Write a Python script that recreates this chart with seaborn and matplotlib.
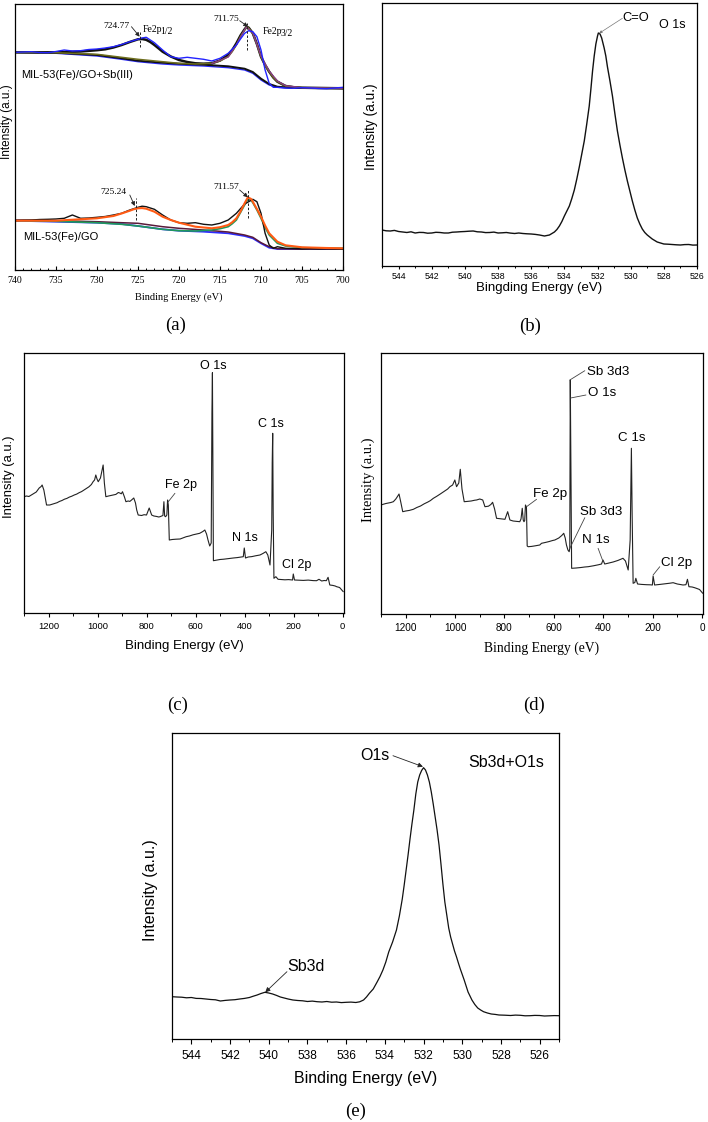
import matplotlib
matplotlib.use("Agg")
import matplotlib.pyplot as plt
import seaborn as sns
from matplotlib.ticker import MultipleLocator

sns.set_theme(style="ticks")
SANS = ['Liberation Sans', 'DejaVu Sans']
SERIF = ['Liberation Serif', 'DejaVu Serif']
plt.rcParams['font.family'] = SANS

# ---------------- panel (a): Fe 2p ----------------
a_up_data_x = [740, 739, 738, 737, 736, 735, 734, 733, 732, 731, 730, 729, 728, 727, 726, 725, 724.5, 724, 723.5, 723,
               722, 721, 720, 719, 718, 717, 716, 715, 714, 713, 712.5, 712, 711.5, 711, 710.5, 710, 709.5, 709, 708.5,
               708, 707, 706, 705, 704, 703, 702, 701, 700]
a_up_data_y = [217.7, 218.0, 218.3, 217.5, 217.3, 218.5, 220.0, 219.0, 219.3, 220.5, 221.0, 222.0, 223.3, 225.5, 228.3,
               230.7, 232.0, 232.7, 230.0, 227.3, 220.0, 213.3, 211.7, 212.7, 211.7, 210.7, 209.0, 211.7, 216.7, 225.0,
               231.0, 236.7, 239.3, 238.3, 233.3, 220.0, 200.0, 186.7, 182.7, 182.7, 182.0, 181.7, 182.3, 182.0, 181.5,
               181.3, 182.0, 182.7]
a_up_env_x = [740, 735, 732, 730, 729, 728, 727, 726, 725, 724.5, 724, 723.5, 723, 722.5, 722, 721, 720, 719, 718, 717,
              716, 715, 714, 713.5, 713, 712.5, 712, 711.75, 711.5, 711, 710.5, 710, 709.5, 709, 708.5, 708, 707, 706,
              705, 700]
a_up_env_y = [217.7, 217.7, 218.5, 219.8, 220.7, 222.5, 225.0, 228.0, 230.7, 231.0, 230.2, 228.0, 225.0, 221.7, 218.3,
              213.5, 210.0, 208.0, 206.7, 206.3, 206.7, 209.5, 215.0, 220.0, 226.7, 234.5, 240.7, 243.3, 242.3, 236.7,
              226.0, 213.3, 205.0, 198.3, 192.5, 188.3, 184.0, 182.8, 182.3, 181.7]
a_up_c1_x = [740, 735, 730, 727, 725, 722, 720, 718, 716, 715, 714, 713.5, 713, 712.5, 712, 711.75, 711.5, 711, 710.5,
             710, 709.5, 709, 708.5, 708, 707, 705, 700]
a_up_c1_y = [217.7, 217.3, 215.7, 212.7, 210.7, 208.3, 206.7, 206.0, 206.7, 209.0, 213.3, 218.5, 225.0, 233.5, 240.0,
             243.3, 242.0, 236.7, 225.5, 213.3, 204.5, 198.3, 192.5, 188.3, 184.0, 182.3, 181.7]
a_up_c2_x = [716, 714, 713, 712, 711.75, 711, 710, 709, 708, 707, 705, 700]
a_up_c2_y = [206.5, 213.0, 225.3, 240.3, 243.0, 237.0, 214.0, 199.0, 189.0, 184.3, 182.3, 181.7]
a_up_bg_x = [740, 735, 730, 727, 725, 722, 720, 717, 714, 712, 711, 710, 709, 708, 706, 700]
a_up_bg1_y = [217.7, 216.7, 214.0, 210.7, 208.3, 206.0, 205.0, 204.0, 202.3, 200.0, 196.7, 190.0, 185.0, 182.7, 181.7, 181.7]
a_up_bg2_y = [217.7, 217.3, 215.0, 211.7, 209.3, 207.3, 206.3, 205.3, 203.7, 201.3, 198.0, 191.3, 186.0, 183.3, 182.0, 181.7]

a_lo_data_x = [740, 739, 738, 737, 736, 735, 734, 733, 732, 731, 730, 729, 728, 727, 726, 725, 724.5, 724, 723, 722,
               721, 720, 719, 718, 717, 716, 715, 714, 713, 712, 711.5, 711, 710.5, 710, 709.5, 709, 708.5, 708, 707,
               706, 705, 704, 703, 702, 701, 700]
a_lo_data_y = [49.3, 49.8, 50.0, 50.5, 50.7, 51.0, 51.7, 55.0, 51.7, 52.0, 52.7, 53.5, 55.0, 56.7, 60.0, 62.7, 63.8,
               63.3, 60.7, 55.0, 50.0, 47.3, 46.7, 47.3, 45.7, 45.0, 46.7, 50.0, 56.7, 66.0, 68.3, 70.7, 68.3, 56.7,
               36.7, 25.0, 21.7, 23.3, 21.7, 21.5, 21.0, 21.3, 21.0, 21.2, 21.0, 21.0]
a_lo_env_x = [740, 735, 730, 728, 727, 726, 725.5, 725, 724.5, 724, 723, 722, 721, 720, 718, 716, 715, 714, 713.5, 713,
              712.5, 712, 711.6, 711.2, 711, 710.5, 710, 709.5, 709, 708, 707, 705, 702, 700]
a_lo_env_y = [49.3, 49.3, 51.7, 54.0, 56.5, 59.3, 60.8, 61.7, 61.9, 61.3, 58.3, 53.3, 50.0, 47.3, 43.3, 41.7, 42.8,
              45.0, 47.8, 51.7, 58.5, 66.7, 72.7, 71.0, 68.3, 61.0, 53.3, 44.5, 36.7, 28.3, 24.7, 22.7, 22.0, 21.7]
a_lo_c1_x = [740, 735, 730, 727, 725, 722, 720, 718, 716, 715, 714, 713.5, 713, 712.5, 712, 711.6, 711.2, 711, 710.5,
             710, 709.5, 709, 708, 707, 705, 700]
a_lo_c1_y = [49.3, 48.7, 47.3, 45.7, 44.0, 40.7, 39.3, 39.0, 40.0, 41.3, 43.3, 46.3, 50.0, 57.5, 65.0, 71.0, 69.5,
             67.3, 60.0, 51.7, 42.5, 35.0, 26.7, 24.0, 22.3, 21.7]
a_lo_bg_x = [740, 735, 730, 727, 725, 722, 720, 717, 714, 712, 711, 710, 709, 708, 706, 700]
a_lo_bg1_y = [49.3, 48.3, 47.3, 46.0, 44.0, 40.7, 39.3, 38.3, 36.7, 34.0, 31.7, 26.7, 22.3, 21.0, 21.0, 21.0]
a_lo_bg2_y = [50.0, 49.3, 48.3, 47.3, 46.7, 43.3, 41.7, 40.0, 38.0, 35.0, 32.7, 27.3, 23.3, 21.3, 21.0, 21.0]

a_peaks = [724.77, 711.75, 725.24, 711.57]
a_peak_labels = ["724.77", "711.75", "725.24", "711.57"]
a_dash_lo = [223.3, 220.0, 50.0, 51.7]
a_dash_hi = [238.3, 246.7, 71.7, 80.0]

# ---------------- panel (b): O 1s ----------------
b_x = [545, 544.75, 544.5, 544.25, 544, 543.75, 543.5, 543.25, 543, 542.75, 542.5, 542.25, 542, 541.75, 541.5, 541.25,
       541, 540.75, 540.5, 540.25, 540, 539.75, 539.5, 539.25, 539, 538.75, 538.5, 538.25, 538, 537.75, 537.5, 537.25,
       537, 536.75, 536.5, 536.25, 536, 535.75, 535.5, 535.2, 534.9, 534.6, 534.45, 534.3, 534.15, 534.0, 533.85,
       533.7, 533.55, 533.4, 533.25, 533.1, 532.95, 532.8, 532.65, 532.5, 532.4, 532.3, 532.2, 532.1, 532.0, 531.95,
       531.85, 531.75, 531.6, 531.5, 531.4, 531.25, 531.1, 530.95, 530.8, 530.65, 530.5, 530.35, 530.2, 530.05, 529.9,
       529.75, 529.6, 529.45, 529.3, 529.15, 529.0, 528.85, 528.7, 528.55, 528.4, 528.2, 528.0, 527.75, 527.5, 527.25,
       527.0, 526.75, 526.5, 526.25, 526.0]
b_y = [36.0, 35.2, 35.0, 35.6, 34.5, 34.0, 33.5, 34.2, 33.0, 33.6, 33.5, 32.8, 33.0, 33.7, 33.5, 33.0, 33.0, 33.8, 34.0,
       34.3, 34.5, 34.8, 35.0, 34.2, 34.0, 33.4, 33.5, 33.9, 33.0, 33.2, 33.5, 32.9, 32.5, 33.0, 32.5, 32.2, 32.0, 31.6,
       31.0, 30.0, 31.0, 34.0, 36.5, 40.0, 44.5, 50.0, 55.0, 60.0, 67.5, 76.0, 87.0, 99.0, 112.0, 125.0, 142.0, 160.0,
       177.0, 195.0, 210.0, 222.0, 230.0, 233.0, 232.0, 228.0, 218.0, 210.0, 199.0, 185.0, 170.0, 152.0, 135.0, 121.0,
       108.0, 96.0, 85.0, 75.0, 65.0, 56.0, 48.0, 42.0, 37.0, 33.5, 31.0, 29.0, 27.0, 25.5, 24.0, 23.0, 22.0, 21.8,
       21.5, 21.2, 21.0, 21.4, 21.5, 20.9, 21.0]

# ---------------- panel (c): survey MIL-53(Fe)/GO ----------------
c_x = [1300, 1290, 1280, 1270, 1263, 1250, 1238, 1230, 1226, 1219, 1208, 1195, 1185, 1175, 1165, 1155, 1145, 1135,
       1125, 1115, 1105, 1095, 1085, 1075, 1065, 1055, 1045, 1035, 1025, 1018, 1012, 1007, 1002, 997, 988, 977, 972,
       966, 955, 945, 936, 925, 915, 909, 903, 898, 890, 884, 875, 868, 861, 852, 845, 840, 834, 820, 810, 800, 789,
       779, 770, 760, 750, 745, 733, 729, 726, 722, 717, 714, 711, 707, 695, 680, 663, 650, 638, 625, 610, 595, 583,
       570, 562, 555, 549, 542, 536, 533, 531, 529, 527, 515, 500, 485, 470, 458, 446, 430, 415, 405, 401, 396, 385,
       370, 355, 337, 325, 313, 305, 296, 289, 287, 285, 283, 280, 272, 263, 250, 235, 220, 204, 201, 196, 180, 160,
       140, 120, 106, 96, 85, 75, 66, 59, 52, 40, 30, 24, 12, -3]
c_y = [116.3, 117.0, 116.5, 118.0, 119.0, 121.0, 125.0, 126.5, 128.0, 123.0, 108.0, 108.0, 108.8, 109.5, 110.3, 111.6,
       112.5, 113.8, 114.6, 115.9, 116.8, 118.0, 118.9, 120.3, 121.4, 123.0, 124.6, 126.2, 128.5, 131.3, 133.0, 138.0,
       134.0, 131.3, 135.0, 148.0, 130.0, 116.3, 117.0, 117.5, 118.0, 118.6, 120.5, 120.0, 119.2, 121.3, 116.0, 111.3,
       112.0, 111.6, 113.0, 115.0, 110.0, 103.0, 98.0, 97.5, 98.3, 98.0, 105.0, 98.0, 97.0, 96.6, 96.0, 96.3, 97.5,
       111.3, 97.0, 96.3, 98.0, 113.0, 108.0, 73.0, 73.5, 73.8, 74.0, 75.2, 76.3, 77.0, 78.2, 79.0, 79.7, 81.5, 83.0,
       79.0, 73.0, 67.0, 70.0, 200.0, 240.3, 150.0, 52.3, 52.8, 53.5, 53.8, 54.3, 54.6, 55.0, 55.4, 56.0, 56.3, 65.0,
       55.0, 56.0, 56.4, 57.2, 58.0, 59.5, 61.3, 58.0, 48.0, 83.0, 150.0, 179.7, 100.0, 34.7, 36.3, 33.7, 33.5, 33.2,
       33.4, 33.0, 39.0, 33.0, 32.8, 32.6, 32.9, 32.4, 32.3, 33.7, 32.0, 32.5, 32.3, 35.7, 28.0, 27.6, 27.0, 26.3, 25.5,
       21.3]

# ---------------- panel (d): survey MIL-53(Fe)/GO + Sb(III) ----------------
d_x = [1300, 1290, 1280, 1270, 1260, 1250, 1240, 1232, 1227, 1220, 1212, 1200, 1185, 1169, 1155, 1140, 1125, 1110,
       1100, 1088, 1075, 1060, 1045, 1030, 1021, 1010, 1001, 994, 985, 979, 972, 963, 950, 935, 920, 913, 900, 888,
       879, 865, 855, 848, 840, 832, 815, 798, 787, 778, 765, 750, 738, 733, 728, 724, 721, 718, 715, 711, 708, 704,
       690, 675, 657, 650, 635, 620, 605, 596, 580, 568, 560, 554, 549, 543, 538, 535.5, 533.5, 531, 528, 510, 490,
       475, 461, 440, 420, 407, 401, 394, 380, 360, 340, 320, 310, 299, 291, 286, 283, 279, 272, 268, 261, 245, 225,
       210, 201, 198, 192, 170, 150, 130, 117, 100, 88, 77, 65, 59, 53, 40, 30, 23, 10, -3]
d_y = [109.0, 109.8, 110.5, 111.0, 111.5, 112.3, 115.0, 118.0, 120.0, 112.0, 102.3, 103.0, 103.6, 104.7, 106.5, 108.0,
       110.2, 112.0, 113.4, 115.7, 117.6, 120.0, 122.5, 125.0, 127.3, 129.0, 134.0, 127.3, 131.0, 144.7, 125.0, 112.3,
       112.6, 113.0, 113.8, 114.0, 115.0, 114.0, 107.3, 107.8, 109.5, 111.7, 105.0, 95.7, 95.2, 94.7, 102.3, 94.0,
       93.0, 92.6, 92.3, 95.0, 105.7, 94.0, 92.3, 93.5, 109.0, 107.0, 68.0, 67.3, 67.6, 68.2, 69.0, 70.7, 71.5, 72.4,
       73.5, 74.0, 76.0, 78.5, 80.7, 76.0, 69.0, 64.0, 62.3, 65.7, 234.0, 150.0, 45.7, 46.0, 46.5, 47.0, 47.3, 48.2,
       49.2, 50.0, 54.0, 50.0, 50.8, 52.0, 53.6, 55.7, 53.0, 44.0, 74.0, 165.7, 100.0, 30.7, 31.5, 35.7, 30.0, 29.6,
       29.3, 29.2, 29.0, 38.0, 29.0, 29.6, 30.2, 30.8, 31.3, 30.0, 29.5, 29.0, 29.3, 34.7, 27.3, 27.0, 26.3, 25.7, 24.5,
       20.7]

# ---------------- panel (e): Sb3d + O1s ----------------
e_x = [545, 544.75, 544.5, 544.25, 544, 543.75, 543.5, 543.25, 543, 542.75, 542.5, 542.25, 542, 541.75, 541.5, 541.25,
       541, 540.8, 540.6, 540.4, 540.2, 540.0, 539.8, 539.6, 539.4, 539.2, 539, 538.75, 538.5, 538.25, 538, 537.75,
       537.5, 537.25, 537, 536.75, 536.5, 536.25, 536, 535.75, 535.5, 535.3, 535.1, 534.95, 534.8, 534.6, 534.4,
       534.25, 534.1, 533.95, 533.8, 533.6, 533.4, 533.25, 533.1, 533.0, 532.9, 532.8, 532.7, 532.6, 532.5, 532.4,
       532.3, 532.2, 532.1, 532.0, 531.9, 531.8, 531.7, 531.6, 531.5, 531.4, 531.3, 531.2, 531.1, 531.0, 530.9, 530.8,
       530.7, 530.6, 530.5, 530.4, 530.3, 530.2, 530.1, 530.0, 529.9, 529.8, 529.7, 529.6, 529.5, 529.35, 529.2,
       529.05, 528.9, 528.7, 528.5, 528.3, 528.1, 527.8, 527.5, 527.25, 527, 526.75, 526.5, 526.25, 526, 525.75, 525.5,
       525.25, 525]
e_y = [42.3, 42.0, 41.8, 41.2, 41.5, 40.6, 40.5, 40.0, 39.5, 39.2, 38.0, 38.6, 39.0, 39.3, 40.0, 40.6, 41.5, 42.8,
       44.0, 45.5, 46.7, 46.0, 45.0, 43.6, 42.0, 41.0, 40.0, 39.0, 38.5, 38.2, 37.5, 37.9, 37.3, 37.0, 37.5, 36.8, 37.0,
       36.4, 36.7, 36.9, 36.5, 37.2, 39.0, 42.0, 45.7, 50.0, 57.0, 62.5, 69.0, 77.0, 87.0, 97.0, 109.0, 123.0, 140.0,
       154.0, 169.0, 184.0, 200.0, 215.0, 229.0, 245.0, 257.0, 264.0, 268.5, 271.3, 269.0, 264.0, 257.0, 247.0, 235.0,
       222.0, 209.0, 194.0, 175.0, 155.0, 137.0, 124.0, 111.0, 102.0, 95.0, 88.0, 82.3, 76.0, 70.0, 64.5, 59.0, 53.0,
       47.0, 43.0, 39.0, 34.5, 31.0, 29.0, 27.3, 26.0, 25.0, 24.6, 24.0, 23.8, 23.5, 23.9, 23.7, 23.2, 23.3, 23.6,
       23.5, 23.0, 23.2, 23.4, 23.3]

# ---------------- figure ----------------
W, H = 708, 1122
fig = plt.figure(figsize=(W / 100, H / 100), dpi=100)


def add_axes(l, t, r, b):
    return fig.add_axes([l / W, 1 - b / H, (r - l) / W, (b - t) / H])


def line(ax, x, y, color, lw=0.9, ls='-'):
    sns.lineplot(x=x, y=y, ax=ax, color=color, linewidth=lw, linestyle=ls, sort=False, estimator=None, legend=False)


def style(ax, xlim, ylim, major, minor, direction, tickfam, ticksize, pad, majlen=3.0, minlen=1.8):
    ax.set_xlim(*xlim)
    ax.set_ylim(*ylim)
    ax.xaxis.set_major_locator(MultipleLocator(major))
    ax.xaxis.set_minor_locator(MultipleLocator(minor))
    ax.tick_params(axis='x', which='major', direction=direction, length=majlen, width=0.8, color='black',
                   labelsize=ticksize, pad=pad, labelfontfamily=tickfam, labelcolor='black', bottom=True, top=False)
    ax.tick_params(axis='x', which='minor', direction=direction, length=minlen, width=0.7, color='black',
                   bottom=True, top=False)
    ax.set_yticks([])
    ax.set_facecolor('white')
    for s in ax.spines.values():
        s.set_visible(True)
        s.set_linewidth(0.9)
        s.set_color('black')


def labels(ax, xlabel, xfam, xsize, xy, ylabel, yfam, ysize, yx, yy):
    ax.set_xlabel(xlabel, fontsize=xsize, family=xfam, color='black')
    ax.xaxis.set_label_coords(0.5, xy)
    ax.set_ylabel(ylabel, fontsize=ysize, family=yfam, color='black')
    ax.yaxis.set_label_coords(yx, yy)


# ---- (a)
axa = add_axes(15, 4, 343, 270)
line(axa, a_up_bg_x, a_up_bg1_y, '#2b2bff', 1.0)
line(axa, a_up_bg_x, a_up_bg2_y, '#111111', 1.4)
line(axa, a_up_env_x, a_up_env_y, '#111111', 1.8)
line(axa, a_up_c1_x, a_up_c1_y, '#6e6e1e', 1.1)
line(axa, a_up_c2_x, a_up_c2_y, '#8a3a8a', 0.9)
line(axa, a_up_data_x, a_up_data_y, '#2323ff', 1.0)
line(axa, a_lo_bg_x, a_lo_bg1_y, '#2b2bff', 1.3)
line(axa, a_lo_bg_x, a_lo_bg2_y, '#5a1a3a', 1.1)
line(axa, a_lo_c1_x, a_lo_c1_y, '#1f9a5a', 1.2)
line(axa, a_lo_data_x, a_lo_data_y, '#111111', 1.0)
line(axa, a_lo_env_x, a_lo_env_y, '#ff5a14', 1.5)
style(axa, (740, 700), (0, 266), 5, 1, 'in', SERIF, 7, 4.5, 3.0, 1.8)
labels(axa, 'Binding Energy (eV)', SERIF, 7.5, -22 / 266, 'Intensity (a.u.)', SANS, 8.5, -0.006, 0.557)
axa.vlines(a_peaks, a_dash_lo, a_dash_hi, colors='#222222', linestyles=(0, (2.5, 1.8)), linewidth=0.7)
arrow = dict(arrowstyle='-|>', color='#222222', lw=0.6, mutation_scale=6, shrinkA=0, shrinkB=0)
a_text_x = [727.6, 714.2, 728.0, 714.2]
a_text_y = [244.0, 250.7, 78.3, 82.7]
a_arrow_from = [(725.8, 243.3), (712.6, 249.3), (726.0, 75.0), (712.6, 80.0)]
a_arrow_to = [(724.8, 233.3), (711.6, 243.3), (725.4, 64.0), (711.6, 72.7)]
for lab, tx, ty, af, at in zip(a_peak_labels, a_text_x, a_text_y, a_arrow_from, a_arrow_to):
    axa.text(tx, ty, lab, fontsize=6.8, family=SERIF, ha='center', va='center', color='black')
    axa.annotate('', xy=at, xytext=af, arrowprops=arrow)
# orbital labels: "Fe2p" followed directly by a slightly lowered "1/2" / "3/2"
for x0, y0, sub in [(724.4, 240.5, '1/2'), (709.75, 238.8, '3/2')]:
    base = axa.text(x0, y0, 'Fe2p', fontsize=7, family=SERIF, ha='left', va='center', color='black')
    axa.annotate(sub, xy=(1.0, 0.5), xycoords=base, xytext=(-1.6, -1.3), textcoords='offset points',
                 fontsize=7, family=SERIF, ha='left', va='center', color='black')
axa.text(739.2, 195.0, 'MIL-53(Fe)/GO+Sb(III)', fontsize=8, family=SANS, ha='left', va='center', color='black')
axa.text(739.0, 33.3, 'MIL-53(Fe)/GO', fontsize=8, family=SANS, ha='left', va='center', color='black')

# ---- (b)
axb = add_axes(382, 3, 697, 266)
line(axb, b_x, b_y, '#111111', 1.0)
style(axb, (545, 526), (0, 263), 2, 1, 'out', SANS, 6.3, 1.5, 2.5, 1.5)
labels(axb, 'Bingding Energy (eV)', SANS, 9.5, -16 / 263, 'Intensity (a.u.)', SANS, 9.8, -0.013, 0.53)
axb.annotate('', xy=(531.9, 232.7), xytext=(530.5, 247.7),
             arrowprops=dict(arrowstyle='-|>', color='#777777', lw=0.5, mutation_scale=4, shrinkA=0, shrinkB=0))
axb.text(529.7, 247.7, 'C=O', fontsize=9.3, ha='center', va='center', color='black')
axb.text(527.5, 241.0, 'O 1s', fontsize=9, ha='center', va='center', color='black')

# ---- (c)
axc = add_axes(24, 353, 344, 613)
line(axc, c_x, c_y, '#222222', 0.8)
style(axc, (1300, -6), (0, 260), 200, 100, 'out', SANS, 6.8, 3.5, 3.0, 2.0)
labels(axc, 'Binding Energy (eV)', SANS, 9.5, -27 / 260, 'Intensity (a.u.)', SANS, 9.4, -0.028, 0.524)
c_ann = ['O 1s', 'C 1s', 'Fe 2p', 'N 1s', 'Cl 2p']
c_ann_x = [528, 292, 659, 398, 186]
c_ann_y = [247, 189, 128, 74.7, 48]
for t, x, y in zip(c_ann, c_ann_x, c_ann_y):
    axc.text(x, y, t, fontsize=9, ha='center', va='center', color='black')
axc.plot([711, 684], [111.3, 119.7], color='#444444', lw=0.6)

# ---- (d)
axd = add_axes(381, 353, 703, 614)
line(axd, d_x, d_y, '#222222', 0.8)
style(axd, (1300, -4), (0, 261), 200, 100, 'out', SANS, 7.2, 3.5, 3.0, 2.0)
labels(axd, 'Binding Energy (eV)', SERIF, 9.8, -28 / 261, 'Intensity (a.u.)', SERIF, 10.4, -0.019, 0.513)
d_ann = ['Sb 3d3', 'O 1s', 'C 1s', 'Fe 2p', 'Sb 3d3', 'N 1s', 'Cl 2p']
d_ann_x = [380, 403, 286, 616, 407, 430, 104]
d_ann_y = [242.3, 220.7, 175.7, 120, 102.3, 74, 51.3]
for t, x, y in zip(d_ann, d_ann_x, d_ann_y):
    axd.text(x, y, t, fontsize=9.6, ha='center', va='center', color='black')
d_lead_from = [(535.3, 234), (532, 216), (710.5, 107.3), (535.3, 65.7), (400.6, 52.3), (198, 39)]
d_lead_to = [(474.6, 243.3), (470, 219), (670, 114.7), (474.6, 96.3), (420.8, 65.7), (171, 47.3)]
for f, t in zip(d_lead_from, d_lead_to):
    axd.plot([f[0], t[0]], [f[1], t[1]], color='#444444', lw=0.6)

# ---- (e)
axe = add_axes(172, 733, 559, 1039)
line(axe, e_x, e_y, '#111111', 0.9)
style(axe, (545, 525), (0, 306), 2, 1, 'out', SANS, 8.6, 4.5, 3.5, 2.0)
labels(axe, 'Binding Energy (eV)', SANS, 11.5, -32 / 306, 'Intensity (a.u.)', SANS, 11.5, -0.036, 0.487)
axe.text(534.5, 284, 'O1s', fontsize=11.5, ha='center', va='center', color='black')
axe.text(527.75, 276.3, 'Sb3d+O1s', fontsize=11.5, ha='center', va='center', color='black')
axe.text(538.1, 72.3, 'Sb3d', fontsize=11.5, ha='center', va='center', color='black')
arr_e = dict(arrowstyle='-|>', color='#222222', lw=0.6, mutation_scale=7, shrinkA=0, shrinkB=0)
axe.annotate('', xy=(532.03, 272.3), xytext=(533.58, 283.3), arrowprops=arr_e)
axe.annotate('', xy=(540.18, 46.7), xytext=(539.06, 67.3), arrowprops=arr_e)

# ---- panel letters
panel_letters = ['(a)', '(b)', '(c)', '(d)', '(e)']
letter_px = [(176, 325), (530, 326), (178, 705), (534, 705), (356, 1111)]
for t, (px, py) in zip(panel_letters, letter_px):
    fig.text(px / W, 1 - py / H, t, fontsize=13.5, family=SERIF, ha='center', va='center', color='black')

fig.savefig('out.png', dpi=100, facecolor='white')
